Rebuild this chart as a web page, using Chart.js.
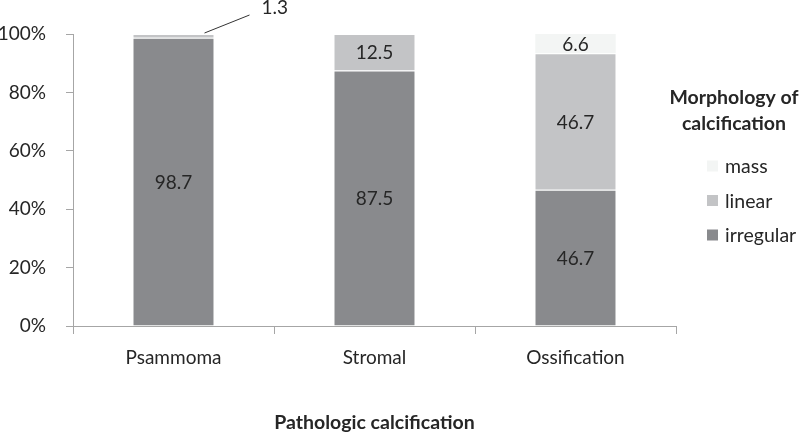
<!DOCTYPE html>
<html>
<head>
<meta charset="utf-8">
<script src="https://cdn.jsdelivr.net/npm/chart.js@4/dist/chart.umd.min.js"></script>
<style>
html,body{margin:0;padding:0;background:#fff;}
#wrap{position:relative;width:800px;height:435px;}
</style>
</head>
<body>
<div id="wrap"><canvas id="c" width="800" height="435"></canvas></div>
<script>
const categories = ["Psammoma", "Stromal", "Ossification"];
const irregular = [98.7, 87.5, 46.7];
const linear = [1.3, 12.5, 46.7];
const mass = [0, 0, 6.6];
const yTicks = [0, 20, 40, 60, 80, 100];
const legendTitle = ["Morphology of", "calcification"];
const xTitle = "Pathologic calcification";

const FONT = "Lato, 'Open Sans', sans-serif";
const TXT = "#262626";

const labelPlugin = {
  id: "segLabels",
  afterDatasetsDraw(chart) {
    const ctx = chart.ctx;
    ctx.save();
    ctx.font = "19px " + FONT;
    ctx.fillStyle = TXT;
    ctx.textAlign = "center";
    ctx.textBaseline = "middle";
    chart.data.datasets.forEach((ds, di) => {
      const meta = chart.getDatasetMeta(di);
      meta.data.forEach((bar, i) => {
        const v = ds.data[i];
        if (!v) return;
        const h = Math.abs(bar.base - bar.y);
        if (h >= 14) {
          ctx.fillText(v.toFixed(1), bar.x, (bar.y + bar.base) / 2 + 1);
        } else {
          // callout with leader line
          const sx = bar.x + 31, sy = bar.y - 1;
          const ex = bar.x + 76, ey = bar.y - 19;
          ctx.strokeStyle = "#333";
          ctx.lineWidth = 1;
          ctx.beginPath();
          ctx.moveTo(sx, sy);
          ctx.lineTo(ex, ey);
          ctx.stroke();
          ctx.textAlign = "left";
          ctx.fillText(v.toFixed(1), bar.x + 88, bar.y - 26);
          ctx.textAlign = "center";
        }
      });
    });
    ctx.restore();
  }
};

const legendPlugin = {
  id: "customLegend",
  afterDraw(chart) {
    const ctx = chart.ctx;
    ctx.save();
    const cx = 734;
    ctx.font = "bold 19.5px " + FONT;
    ctx.fillStyle = TXT;
    ctx.textAlign = "center";
    ctx.textBaseline = "middle";
    legendTitle.forEach((t, i) => ctx.fillText(t, cx, 98 + i * 26));
    ctx.font = "19.5px " + FONT;
    ctx.textAlign = "left";
    const dss = chart.data.datasets.slice().reverse();
    dss.forEach((ds, i) => {
      const y = 166 + i * 34.5;
      ctx.fillStyle = ds.backgroundColor;
      ctx.fillRect(707, y - 5.5, 11, 11);
      ctx.fillStyle = TXT;
      ctx.fillText(ds.label, 725, y + 1);
    });
    ctx.restore();
  }
};

new Chart(document.getElementById("c"), {
  type: "bar",
  data: {
    labels: categories,
    datasets: [
      { label: "irregular", data: irregular, backgroundColor: "#898a8d", borderColor: "#ffffff", borderWidth: {top: 1, left: 0, right: 0, bottom: 0}, borderSkipped: false },
      { label: "linear", data: linear, backgroundColor: "#c3c4c6", borderColor: "#ffffff", borderWidth: {top: 1, left: 0, right: 0, bottom: 0}, borderSkipped: false },
      { label: "mass", data: mass, backgroundColor: "#f3f5f4", borderColor: "#ffffff", borderWidth: 0 }
    ]
  },
  options: {
    responsive: false,
    animation: false,
    devicePixelRatio: 1,
    layout: { padding: { left: 0, right: 124, top: 34, bottom: 0 } },
    datasets: { bar: { categoryPercentage: 0.8, barPercentage: 0.5 } },
    plugins: {
      legend: { display: false },
      tooltip: { enabled: false }
    },
    scales: {
      x: {
        stacked: true,
        offset: true,
        afterFit(s) { s.height = 109; },
        grid: { display: true, offset: true, drawOnChartArea: false, drawTicks: true, tickLength: 8, color: "#a6a6a6" },
        border: { display: true, color: "#a6a6a6" },
        ticks: { color: TXT, font: { family: FONT, size: 19 }, padding: 12 },
        title: { display: true, text: xTitle, color: TXT, font: { family: FONT, size: 19.5, weight: "bold" }, padding: { top: 0, bottom: 1 } }
      },
      y: {
        stacked: true,
        min: 0,
        max: 100,
        afterFit(s) { s.width = 73; },
        afterBuildTicks(s) { s.ticks = yTicks.map(v => ({ value: v })); },
        grid: { display: true, drawOnChartArea: false, drawTicks: true, tickLength: 7, color: "#a6a6a6" },
        border: { display: true, color: "#a6a6a6" },
        ticks: { color: TXT, font: { family: FONT, size: 19 }, padding: 20, callback: v => v + "%" }
      }
    }
  },
  plugins: [labelPlugin, legendPlugin]
});
</script>
</body>
</html>
